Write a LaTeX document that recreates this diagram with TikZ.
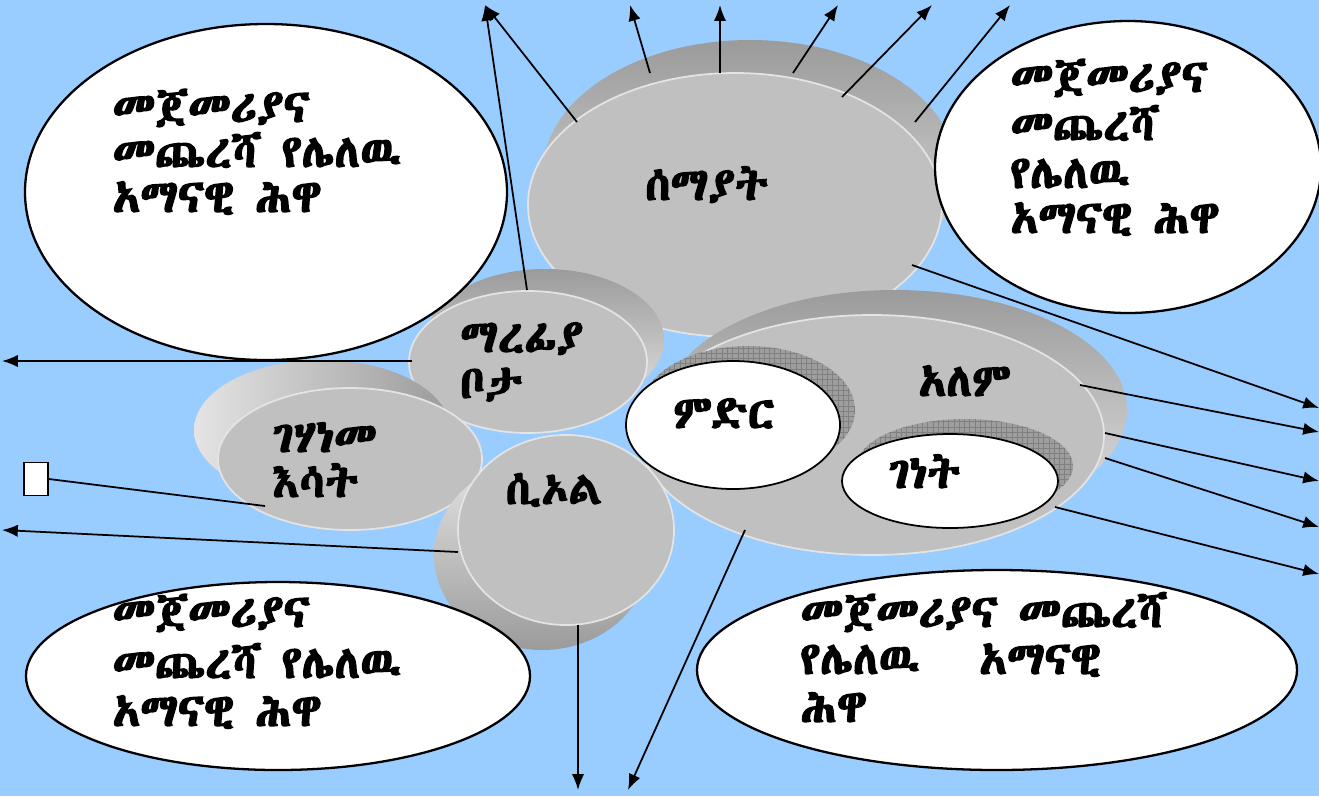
\documentclass[tikz,border=0pt]{standalone}
\usepackage{fontspec}
\IfFontExistsTF{Abyssinica SIL}{\newfontfamily\eth[FakeBold=3]{Abyssinica SIL}}{%
 \IfFontExistsTF{Noto Sans Ethiopic}{\newfontfamily\eth[BoldFont={* Bold}]{Noto Sans Ethiopic}}{%
  \IfFontExistsTF{Noto Serif Ethiopic}{\newfontfamily\eth{Noto Serif Ethiopic}}{%
   \newfontfamily\eth{DejaVu Sans}}}}
\usetikzlibrary{arrows.meta,patterns}
\definecolor{skyblue}{RGB}{153,204,255}
\definecolor{facegray}{RGB}{192,192,192}
\definecolor{rimgray}{RGB}{228,228,228}
\definecolor{backdark}{RGB}{155,155,155}
\definecolor{backlight}{RGB}{228,228,228}
\definecolor{hatchgray}{RGB}{158,158,158}
\definecolor{gridgray}{RGB}{128,128,128}
\tikzset{
  diskface/.style={fill=facegray, draw=rimgray, line width=1pt},
  diskback/.style={top color=backdark, bottom color=backlight},
  hatchshadow/.style={fill=hatchgray, postaction={pattern=grid, pattern color=gridgray}},
  callout/.style={fill=white, draw=black, line width=1.3pt},
  arr/.style={-{Latex[length=9pt,width=7pt]}, line width=1pt},
  plain/.style={line width=1pt},
  txt/.style={font=\eth\bfseries\fontsize{26}{30}\selectfont, anchor=base west, inner sep=0pt}
}
\begin{document}
\begin{tikzpicture}[x=0.02cm,y=-0.02cm]
\useasboundingbox (0,0) rectangle (1319,796);
\fill[skyblue] (0,0) rectangle (1319,796);

% sky disk
\shade[diskback] (750,172) ellipse [x radius=207, y radius=132];
\fill[diskface] (735,205) ellipse [x radius=207, y radius=132];
% world
\shade[diskback] (895,410) ellipse [x radius=232, y radius=120];
\fill[diskface] (872,435) ellipse [x radius=232, y radius=120];
\fill[hatchshadow] (965,466) ellipse [x radius=108, y radius=47];
\draw[callout, line width=1pt] (950,481) ellipse [x radius=108, y radius=47];
% resting place
\shade[diskback] (545,340) ellipse [x radius=119, y radius=71];
\fill[diskface] (528,362) ellipse [x radius=119, y radius=71];
% gehenna
\shade[diskback,left color=backlight,right color=backdark] (322,430) ellipse [x radius=128, y radius=70];
\fill[diskface] (350,459) ellipse [x radius=132, y radius=71];
% sheol
\shade[diskback,top color=backlight,bottom color=backdark] (542,555) ellipse [x radius=108, y radius=95];
\fill[diskface] (566,530) ellipse [x radius=108, y radius=95];
% earth
\fill[hatchshadow] (748,410) ellipse [x radius=107, y radius=64];
\draw[callout, line width=1pt] (733,425) ellipse [x radius=107, y radius=64];

% callouts
\draw[callout] (266,192) ellipse [x radius=241, y radius=168];
\draw[callout] (1128,167) ellipse [x radius=193, y radius=146];
\draw[callout] (278,676) ellipse [x radius=252, y radius=94];
\draw[callout] (997,670) ellipse [x radius=300, y radius=100];

% small box
\node[draw=black, fill=white, line width=1pt, minimum width=24*0.02cm, minimum height=33*0.02cm, inner sep=0pt] (box) at (36,479) {};

% texts
\node[txt] (a1) at (112,122) {መጀመሪያና};
\node[txt] (a2) at (112,167) {መጨረሻ የሌለዉ};
\node[txt] (a3) at (112,212) {አማናዊ ሕዋ};
\node[txt] (b1) at (1010,92) {መጀመሪያና};
\node[txt] (b2) at (1010,140) {መጨረሻ};
\node[txt] (b3) at (1010,188) {የሌለዉ};
\node[txt] (b4) at (1010,233) {አማናዊ ሕዋ};
\node[txt] (c1) at (112,627) {መጀመሪያና};
\node[txt] (c2) at (112,678) {መጨረሻ የሌለዉ};
\node[txt] (c3) at (112,726) {አማናዊ ሕዋ};
\node[txt] (d1) at (800,627) {መጀመሪያና መጨረሻ};
\node[txt] (d2) at (800,674) {የሌለዉ\hspace{1.3em}አማናዊ};
\node[txt] (d3) at (800,722) {ሕዋ};
\node[txt] (sky) at (645,200) {ሰማያት};
\node[txt] (rp1) at (460,352) {ማረፊያ};
\node[txt] (rp2) at (460,398) {ቦታ};
\node[txt] (gh1) at (272,452) {ገሃነመ};
\node[txt] (gh2) at (272,497) {እሳት};
\node[txt] (sh) at (505,504) {ሲኦል};
\node[txt] (wl) at (918,396) {አለም};
\node[txt] (ea) at (673,428) {ምድር};
\node[txt] (pa) at (888,488) {ገነት};

% arrow endpoints
\coordinate (s1) at (577,122); \coordinate (t1) at (485,5);
\coordinate (s2) at (527,290);
\coordinate (s3) at (650,73);  \coordinate (t3) at (630,5);
\coordinate (s4) at (720,73);  \coordinate (t4) at (720,5);
\coordinate (s5) at (793,73);  \coordinate (t5) at (838,5);
\coordinate (s6) at (842,97);  \coordinate (t6) at (932,5);
\coordinate (s7) at (915,122); \coordinate (t7) at (1010,5);
\coordinate (r1s) at (912,265); \coordinate (r1t) at (1319,408);
\coordinate (r2s) at (1080,385); \coordinate (r2t) at (1319,432);
\coordinate (r3s) at (1105,433); \coordinate (r3t) at (1319,481);
\coordinate (r4s) at (1105,458); \coordinate (r4t) at (1319,527);
\coordinate (r5s) at (1055,507); \coordinate (r5t) at (1319,574);
\coordinate (l1s) at (412,361); \coordinate (l1t) at (2,361);
\coordinate (l2s) at (458,552); \coordinate (l2t) at (2,530);
\coordinate (bxs) at (265,506);
\coordinate (b1s) at (578,625); \coordinate (b1t) at (578,790);
\coordinate (b2s) at (745,530); \coordinate (b2t) at (628,790);

\draw[arr] (s1) -- (t1);
\draw[arr] (s2) -- (t1);
\draw[arr] (s3) -- (t3);
\draw[arr] (s4) -- (t4);
\draw[arr] (s5) -- (t5);
\draw[arr] (s6) -- (t6);
\draw[arr] (s7) -- (t7);
\draw[arr] (r1s) -- (r1t);
\draw[arr] (r2s) -- (r2t);
\draw[arr] (r3s) -- (r3t);
\draw[arr] (r4s) -- (r4t);
\draw[arr] (r5s) -- (r5t);
\draw[arr] (l1s) -- (l1t);
\draw[arr] (l2s) -- (l2t);
\draw[plain] (box.east) -- (bxs);
\draw[arr] (b1s) -- (b1t);
\draw[arr] (b2s) -- (b2t);
\end{tikzpicture}
\end{document}
